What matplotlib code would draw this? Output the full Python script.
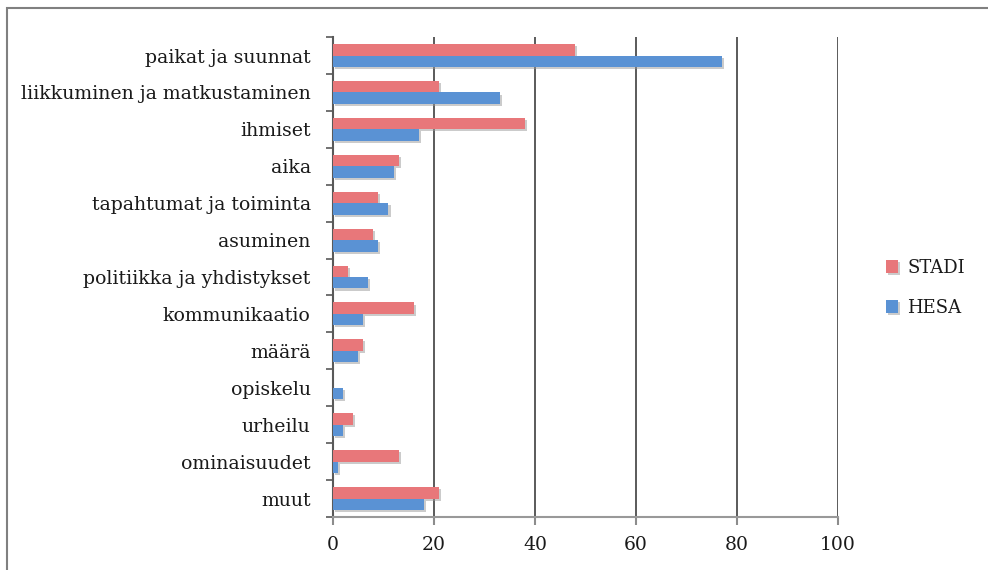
import matplotlib.pyplot as plt
import matplotlib.patheffects as pe
from matplotlib.patches import Rectangle
import numpy as np

categories = ["paikat ja suunnat", "liikkuminen ja matkustaminen", "ihmiset", "aika",
              "tapahtumat ja toiminta", "asuminen", "politiikka ja yhdistykset",
              "kommunikaatio", "määrä", "opiskelu", "urheilu", "ominaisuudet", "muut"]
stadi = [48, 21, 38, 13, 9, 8, 3, 16, 6, 0, 4, 13, 21]
hesa = [77, 33, 17, 12, 11, 9, 7, 6, 5, 2, 2, 1, 18]
x_ticks = [0, 20, 40, 60, 80, 100]

plt.rcParams['font.family'] = ['DejaVu Serif']

fig = plt.figure(figsize=(9.88, 5.70), dpi=100)
ax = fig.add_axes([0.337, 0.093, 0.511, 0.842])

y = np.arange(len(categories))
h = 0.31
shadow = [pe.withSimplePatchShadow(offset=(1.5, -1.5), shadow_rgbFace='0.6', alpha=0.5)]
ax.barh(y - h / 2, stadi, height=h, color="#E8777A", label="STADI", path_effects=shadow, zorder=3)
ax.barh(y + h / 2, hesa, height=h, color="#5A92D4", label="HESA", path_effects=shadow, zorder=3)

ax.set_ylim(len(categories) - 0.5, -0.5)
ax.set_xlim(0, 100)
ax.set_yticks(y)
ax.set_yticklabels(categories, fontsize=13.6, color='0.1')
ax.set_yticks(np.arange(-0.5, len(categories)), minor=True)
ax.tick_params(axis='y', which='major', length=0, pad=16)
ax.tick_params(axis='y', which='minor', length=5, color='0.35', width=1.2)
ax.set_xticks(x_ticks)
ax.tick_params(axis='x', labelsize=13.5, labelcolor='0.1', length=6, color='0.55', width=1.5, pad=8)

ax.grid(axis='x', color='0.3', linewidth=1.3, zorder=0)
for s in ['top', 'right']:
    ax.spines[s].set_visible(False)
ax.spines['left'].set_color('0.35')
ax.spines['left'].set_linewidth(1.5)
ax.spines['bottom'].set_color('0.6')
ax.spines['bottom'].set_linewidth(1.5)
ax.set_axisbelow(True)

fig.legend(loc='center left', bbox_to_anchor=(0.88, 0.495), frameon=False,
           fontsize=13, handlelength=0.7, handleheight=0.7, labelspacing=1.2,
           handletextpad=0.5, labelcolor='0.1')

fig.patches.append(Rectangle((0.007, -0.1), 1.1, 1.086, transform=fig.transFigure,
                             fill=False, edgecolor='0.5', linewidth=1.5))

plt.savefig("out.png", dpi=100)
